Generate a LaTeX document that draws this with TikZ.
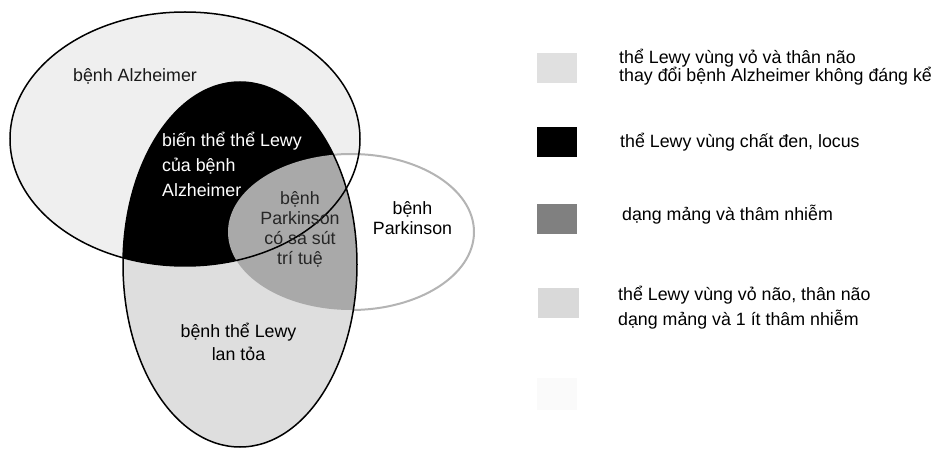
\documentclass[tikz,border=0pt]{standalone}
\usepackage{fontspec}
\setmainfont{Liberation Sans}
\begin{document}
\begin{tikzpicture}[x=1pt,y=-1pt,
  lbl/.style={inner sep=0pt, font=\fontsize{17.8}{25}\selectfont},
  legtext/.style={lbl, anchor=base west, align=left},
  legbox/.style={anchor=north west, inner sep=0pt, minimum width=40pt, minimum height=30pt},
  outline/.style={line width=1.5pt, black},
  pdoutline/.style={line width=2pt, color=pdgray}]
\definecolor{adfill}{HTML}{EFEFEF}
\definecolor{lbfill}{HTML}{DEDEDE}
\definecolor{pdzone}{HTML}{A9A9A9}
\definecolor{pdgray}{HTML}{B4B4B4}
\definecolor{leg1}{HTML}{E0E0E0}
\definecolor{leg3}{HTML}{808080}
\definecolor{leg4}{HTML}{D9D9D9}
\definecolor{leg5}{HTML}{FAFAFA}
\useasboundingbox (0,0) rectangle (935,449);

% ellipses: Alzheimer (AD), Lewy body disease (LB), Parkinson (PD)
\def\adshape{(185,139) ellipse [x radius=175, y radius=127]}
\def\lbshape{(240,264.5) ellipse [x radius=117, y radius=182.5]}
\def\pdshape{(351,232) ellipse [x radius=123, y radius=78]}

\fill[adfill] \adshape;
\fill[white] \pdshape;
\fill[lbfill] \lbshape;
\begin{scope}
  \clip \lbshape;
  \fill[black] \adshape;
  \fill[pdzone] \pdshape;
\end{scope}
% Parkinson outline only outside the Lewy region
\begin{scope}[even odd rule]
  \clip (-10,-10) rectangle (950,460) \lbshape;
  \draw[pdoutline] \pdshape;
\end{scope}
\draw[outline] \lbshape;
\draw[outline] \adshape;

% region labels (multi-line nodes are placed by their last baseline)
\node[lbl, anchor=base west, text=black!90] (ad) at (73,82) {bệnh Alzheimer};
\node[lbl, anchor=base west, align=left, text=white] (adlb) at (162,196.5)
  {biến thể thể Lewy\\của bệnh\\Alzheimer};
\node[lbl, anchor=base, align=center, text=black!85,
  font=\fontsize{17.8}{20}\selectfont] (pdd) at (300,265)
  {bệnh\\Parkinson\\có sa sút\\trí tuệ};
\node[lbl, anchor=base, align=center, font=\fontsize{17.8}{20}\selectfont] (pd) at (412.5,235)
  {bệnh\\Parkinson};
\node[lbl, anchor=base, align=center, font=\fontsize{17.8}{23}\selectfont] (lb) at (238.5,360)
  {bệnh thể Lewy\\lan tỏa};

% legend
\node[legbox, fill=leg1] (k1) at (537,53) {};
\node[legbox, fill=black] (k2) at (537,127) {};
\node[legbox, fill=leg3] (k3) at (537,204) {};
\node[legbox, fill=leg4, minimum width=41pt] (k4) at (538,288) {};
\node[legbox, fill=leg5, minimum height=32pt] (k5) at (537,378) {};

\node[legtext, font=\fontsize{17.8}{18.4}\selectfont] (t1) at (619,81.7)
  {thể Lewy vùng vỏ và thân não\\thay đổi bệnh Alzheimer không đáng kể};
\node[legtext] (t2) at (620,148) {thể Lewy vùng chất đen, locus};
\node[legtext] (t3) at (622,221) {dạng mảng và thâm nhiễm};
\node[legtext, font=\fontsize{17.8}{24.4}\selectfont] (t4) at (618,325)
  {thể Lewy vùng vỏ não, thân não\\dạng mảng và 1 ít thâm nhiễm};
\end{tikzpicture}
\end{document}
